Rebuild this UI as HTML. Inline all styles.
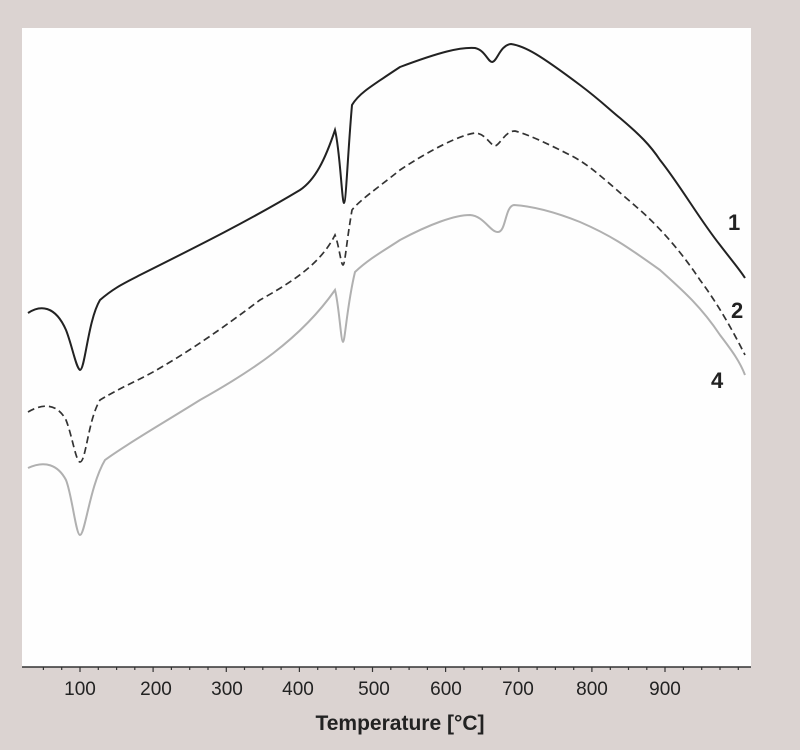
<!DOCTYPE html>
<html><head><style>
body{margin:0;background:#dbd3d1;}
svg{display:block;}
</style></head><body>
<svg width="800" height="750" xmlns="http://www.w3.org/2000/svg">
<rect x="0" y="0" width="800" height="750" fill="#dbd3d1"/>
<rect x="22" y="28" width="729" height="639" fill="#fefefe"/>
<line x1="22" y1="667" x2="751" y2="667" stroke="#333" stroke-width="1.5"/>
<g stroke="#333" stroke-width="1.2">
<path d="M43.4 667v3M61.7 667v3M98.3 667v3M116.6 667v3M134.8 667v3M171.4 667v3M189.7 667v3M208 667v3M244.5 667v3M262.8 667v3M281.1 667v3M317.7 667v3M336 667v3M354.3 667v3M390.8 667v3M409.1 667v3M427.4 667v3M464 667v3M482.3 667v3M500.5 667v3M537.1 667v3M555.4 667v3M573.7 667v3M610.3 667v3M628.5 667v3M646.8 667v3M683.4 667v3M701.7 667v3M720 667v3M738.3 667v3"/>
<path d="M80 667v5M153.1 667v5M226.3 667v5M299.4 667v5M372.5 667v5M445.6 667v5M518.8 667v5M591.9 667v5M665 667v5"/>
</g>
<g font-family="Liberation Sans, sans-serif" font-size="19" fill="#222" text-anchor="middle">
<text x="80" y="695">100</text><text x="156" y="695">200</text><text x="227" y="695">300</text><text x="298" y="695">400</text><text x="374" y="695">500</text><text x="446" y="695">600</text><text x="518" y="695">700</text><text x="592" y="695">800</text><text x="665" y="695">900</text>
<text x="400" y="730" font-size="21" font-weight="bold">Temperature [°C]</text>
</g>
<path fill="none" stroke="#222" stroke-width="2" d="M28 313C40 305 55 305 66 330C72 345 76 368 80 370C85 370 88 320 100 300C115 287 125 283 140 275C200 245 250 220 300 190C315 180 325 160 335 130C340 150 342 203 344 203C346 203 348 150 352 105C358 95 365 90 400 67C440 52 460 47 475 48C485 50 488 62 492 62C497 62 500 45 511 44C525 46 540 55 580 85C600 100 610 110 620 118C640 135 650 145 660 160C680 185 700 220 720 245C733 262 740 270 745 278"/>
<path fill="none" stroke="#333" stroke-width="1.7" stroke-dasharray="7,4" d="M28 412C45 402 58 405 66 420C72 435 76 462 80 462C86 462 88 420 100 400C125 385 140 380 160 368C200 345 240 315 260 300C290 283 320 265 335 235C339 245 341 265 343 265C345 265 346 245 352 210C360 200 375 190 400 170C430 150 460 135 475 133C485 133 490 145 495 146C500 145 505 131 515 131C530 135 550 145 570 155C590 165 605 180 640 210C660 228 680 250 700 280C715 300 730 325 745 355"/>
<path fill="none" stroke="#b0b0b0" stroke-width="2" d="M28 468C45 460 58 465 66 480C72 495 76 535 80 535C85 535 90 485 105 460C125 445 160 425 200 400C250 372 300 340 335 290C339 305 341 342 343 342C345 342 347 305 355 272C370 258 385 250 400 240C430 224 455 215 470 215C484 216 490 232 498 232C506 232 505 206 514 205C530 206 550 210 580 222C610 235 625 245 660 270C680 288 700 305 720 335C733 352 740 362 745 375"/>
<g font-family="Liberation Sans, sans-serif" font-size="22" font-weight="bold" fill="#222">
<text x="728" y="230">1</text><text x="731" y="318">2</text><text x="711" y="388">4</text>
</g>
</svg>
</body></html>
